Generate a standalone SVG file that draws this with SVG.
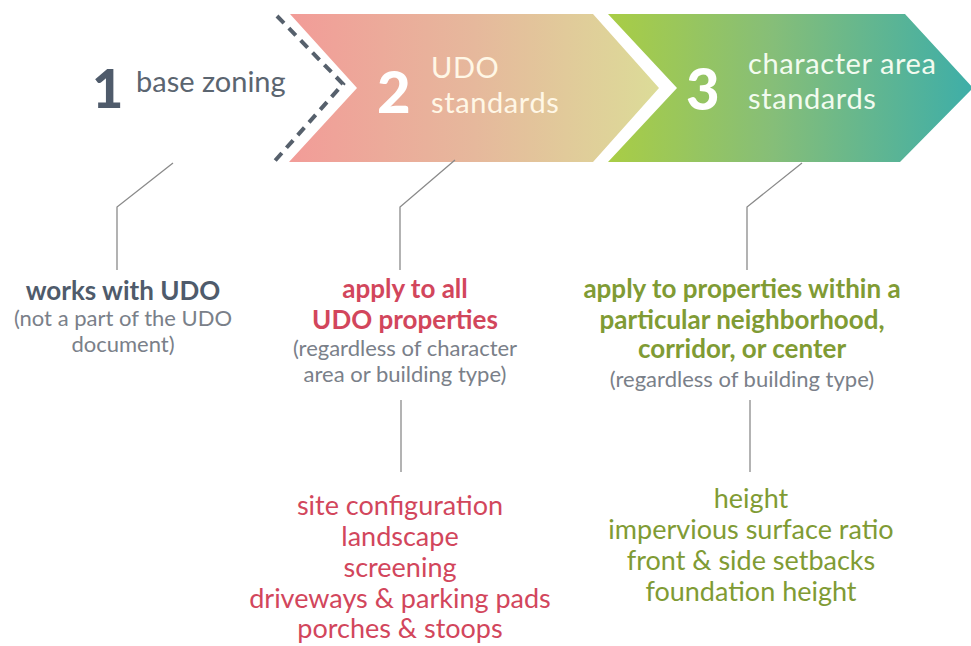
<svg xmlns="http://www.w3.org/2000/svg" width="971" height="646" viewBox="0 0 971 646">
<defs>
<linearGradient id="g2" x1="0" y1="0" x2="1" y2="0">
<stop offset="0" stop-color="#F29C98"/>
<stop offset="0.5" stop-color="#E6B89C"/>
<stop offset="1" stop-color="#DCDC98"/>
</linearGradient>
<linearGradient id="g3" x1="0" y1="0" x2="1" y2="0">
<stop offset="0" stop-color="#A9CD45"/>
<stop offset="0.45" stop-color="#86BE78"/>
<stop offset="1" stop-color="#3EAEA8"/>
</linearGradient>
<style>
text{font-family:Lato,"Open Sans","Liberation Sans",sans-serif;text-anchor:middle}
.num{font-weight:900;text-anchor:start}
.hd{font-size:29px;text-anchor:start;letter-spacing:0.6px}
.lead{font-size:26px;font-weight:bold}
.sub{font-size:22px;fill:#7A8089}
.item{font-size:27px}
.red{fill:#D2465C}
.grn{fill:#809B34}
.slate{fill:#4F5B6B}
.conn{fill:none;stroke:#8A8A8A;stroke-width:1.3}
</style>
</defs>
<rect width="971" height="646" fill="#FFFFFF"/>
<g id="step1">
<polyline points="277,16 343,84 273,163" fill="none" stroke="#56606C" stroke-width="4" stroke-dasharray="10,7"/>
<text class="num slate" x="92" y="108" font-size="54">1</text>
<text class="hd" x="136" y="92" fill="#5B6570" style="letter-spacing:0">base zoning</text>
</g>
<g id="step2">
<polygon points="290,14 593,14 659,88 593,162 289,162 357,88" fill="url(#g2)"/>
<text class="num" x="377" y="113" font-size="58" fill="#FFFFFF">2</text>
<text class="hd" x="431" y="78" fill="#FFF7E6">UDO</text>
<text class="hd" x="431" y="113" fill="#FFF7E6">standards</text>
</g>
<g id="step3">
<polygon points="608,14 905,14 973,88 900,162 608,162 677,88" fill="url(#g3)"/>
<text class="num" x="686" y="110" font-size="58" fill="#FFFFFF">3</text>
<text class="hd" x="748" y="74" fill="#F2FBEF">character area</text>
<text class="hd" x="748" y="109" fill="#F2FBEF">standards</text>
</g>
<g id="connectors">
<polyline class="conn" points="173,163 117,207 117,270"/>
<polyline class="conn" points="455,160 400,207 400,270"/>
<polyline class="conn" points="802,163 747,207 747,270"/>
<line class="conn" x1="401" y1="400" x2="401" y2="472"/>
<line class="conn" x1="750" y1="400" x2="750" y2="472"/>
</g>
<g id="desc1">
<text class="lead slate" x="123" y="300">works with UDO</text>
<text class="sub" x="123" y="326">(not a part of the UDO</text>
<text class="sub" x="123" y="352">document)</text>
</g>
<g id="desc2">
<text class="lead red" x="405" y="298">apply to all</text>
<text class="lead red" x="405" y="329">UDO properties</text>
<text class="sub" x="405" y="356">(regardless of character</text>
<text class="sub" x="405" y="382">area or building type)</text>
</g>
<g id="desc3">
<text class="lead grn" x="742" y="298">apply to properties within a</text>
<text class="lead grn" x="742" y="329">particular neighborhood,</text>
<text class="lead grn" x="742" y="358">corridor, or center</text>
<text class="sub" x="742" y="387">(regardless of building type)</text>
</g>
<g id="list2">
<text class="item red" x="400" y="515">site configuration</text>
<text class="item red" x="400" y="546">landscape</text>
<text class="item red" x="400" y="577">screening</text>
<text class="item red" x="400" y="608">driveways &amp; parking pads</text>
<text class="item red" x="400" y="638">porches &amp; stoops</text>
</g>
<g id="list3">
<text class="item grn" x="751" y="508">height</text>
<text class="item grn" x="751" y="539">impervious surface ratio</text>
<text class="item grn" x="751" y="570">front &amp; side setbacks</text>
<text class="item grn" x="751" y="601">foundation height</text>
</g>
</svg>
